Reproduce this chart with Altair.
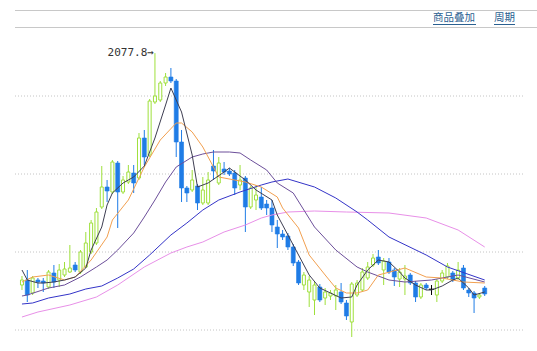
import altair as alt
import pandas as pd

# ---------------- data (weekly candles) ----------------
opens = [1614,1624,1598,1624,1622,1610,1638,1624,1634,1640,
         1654,1640,1650,1680,1698,1770,1810,1800,1858,1800,
         1820,1838,1828,1908,1874,1980,1984,2018,2030,2022,
         1900,1808,1804,1812,1778,1778,1852,1818,1846,1842,
         1838,1814,1828,1770,1784,1790,1776,1768,1730,1716,
         1712,1690,1660,1614,1600,1584,1610,1588,1592,1592,
         1600,1578,1540,1594,1604,1628,1654,1670,1644,1660,
         1644,1626,1626,1634,1618,1590,1614,1606,1594,1622,
         1630,1638,1628,1648,1604,1598,1590,1608]
highs = [1632,1644,1632,1628,1628,1644,1654,1656,1660,1694,
         1660,1684,1720,1744,1768,1852,1824,1864,1862,1832,
         1854,1854,1918,1924,1986,2077.8,2022,2038,2048,2026,
         1924,1812,1844,1816,1830,1840,1884,1870,1860,1848,
         1844,1854,1832,1812,1814,1810,1784,1784,1744,1724,
         1718,1696,1664,1640,1632,1620,1616,1608,1604,1614,
         1618,1584,1620,1624,1648,1660,1676,1684,1668,1668,
         1648,1648,1654,1638,1622,1618,1618,1614,1626,1644,
         1658,1642,1660,1654,1608,1602,1598,1612]
lows = [1604,1580,1594,1608,1600,1606,1608,1610,1630,1638,
        1640,1636,1648,1676,1694,1766,1780,1796,1728,1796,
        1816,1798,1824,1854,1870,1976,1980,2012,2018,1870,
        1780,1780,1800,1764,1774,1774,1824,1814,1834,1832,
        1794,1804,1720,1766,1764,1764,1754,1720,1688,1704,
        1684,1652,1614,1604,1570,1554,1580,1574,1584,1564,
        1576,1544,1510,1590,1600,1624,1650,1654,1614,1636,
        1612,1610,1594,1614,1580,1586,1604,1594,1580,1618,
        1626,1620,1624,1604,1590,1558,1586,1592]
closes = [1624,1594,1628,1620,1618,1640,1620,1644,1646,1648,
          1644,1680,1698,1738,1760,1810,1802,1860,1800,1824,
          1840,1818,1908,1870,1982,1992,2018,2030,2022,1900,
          1808,1798,1824,1778,1804,1824,1842,1858,1840,1836,
          1808,1824,1770,1808,1794,1768,1768,1734,1716,1710,
          1690,1658,1618,1634,1624,1614,1584,1600,1598,1604,
          1580,1552,1616,1618,1640,1650,1668,1658,1662,1640,
          1630,1640,1632,1618,1590,1614,1608,1605,1622,1638,
          1652,1624,1644,1608,1598,1588,1594,1596]

# moving averages (sampled at candle indices)
ma5_idx = [0,1,3,4,6,8,10,12,13,15,16,17,19,21,23,25,27,28,30,32,33,35,38,39,42,44,47,48,49,52,
           54,56,58,60,62,63,65,67,69,71,72,74,76,77,79,81,82,84,85,87]
ma5_val = [1644,1624,1618,1618,1620,1624,1630,1648,1684,1730,1774,1798,1818,1830,1852,1908,1974,2008,1960,1874,
           1810,1818,1840,1848,1824,1804,1784,1754,1734,1674,1634,1608,1598,1588,1590,1614,1644,1664,1660,1640,
           1628,1614,1604,1604,1612,1624,1628,1608,1594,1600]
ma10_idx = [0,2,5,8,10,13,16,17,20,23,26,29,30,32,34,36,37,40,42,45,48,49,52,54,57,59,61,63,65,67,72,76,79,83,87]
ma10_val = [1620,1630,1634,1624,1630,1664,1710,1744,1784,1850,1904,1938,1938,1920,1890,1850,1830,1824,1820,1810,
            1790,1768,1728,1674,1634,1608,1598,1598,1604,1634,1648,1630,1628,1620,1618]
ma20_idx = [0,1,5,8,11,14,16,18,21,23,25,27,29,32,34,36,39,41,43,46,48,51,55,59,63,65,69,72,77,82,87]
ma20_val = [1592,1594,1608,1614,1630,1650,1664,1684,1718,1750,1784,1820,1850,1870,1876,1880,1880,1878,1864,1844,
            1818,1798,1730,1684,1650,1640,1624,1620,1624,1634,1620]
ma30_idx = [0,2,5,9,12,15,18,21,24,28,31,34,37,41,45,47,50,55,59,63,65,69,76,80,87]
ma30_val = [1576,1578,1588,1596,1606,1612,1628,1646,1674,1714,1738,1764,1784,1800,1814,1820,1826,1810,1788,1760,
            1744,1710,1674,1650,1624]
ma60_idx = [0,3,9,14,18,23,28,31,34,38,42,45,47,50,55,61,69,76,82,87]
ma60_val = [1550,1560,1574,1590,1614,1650,1678,1690,1700,1720,1734,1748,1754,1760,1762,1760,1758,1748,1724,1690]

grid_levels = [1992, 1836, 1680, 1524]
header_labels = ["商品叠加", "周期"]

# ---------------- styles ----------------
GREEN = "#9fe03c"
BLUE = "#1f7ce6"
LINK = "#2a6090"
MA_SPECS = [("MA60", ma60_idx, ma60_val, "#e890e8"),
            ("MA30", ma30_idx, ma30_val, "#3434c8"),
            ("MA20", ma20_idx, ma20_val, "#6c4f9a"),
            ("MA10", ma10_idx, ma10_val, "#f2a050"),
            ("MA5", ma5_idx, ma5_val, "#3e3e52")]

n = len(opens)
df = pd.DataFrame({"i": list(range(n)), "open": opens, "high": highs, "low": lows, "close": closes})
df["kind"] = ["doji" if abs(c - o) <= 1 else ("up" if c > o else "down") for o, c in zip(opens, closes)]

xsc = alt.Scale(domain=[-3.192, 95.89], nice=False, zero=False)
ysc = alt.Scale(domain=[1482, 2184], nice=False, zero=False)
X = alt.X("i:Q", scale=xsc, axis=None)

one = pd.DataFrame({"k": [0]})
layers = []

for yy in (10.5, 27.5):
    layers.append(alt.Chart(one).mark_rule(color="#c8c8c8", strokeWidth=1).encode(
        x=alt.value(15), x2=alt.value(537), y=alt.value(yy)))

layers.append(alt.Chart(pd.DataFrame({"p": grid_levels})).mark_rule(
    color="#c4c4c4", strokeDash=[1, 2], strokeWidth=1).encode(
    y=alt.Y("p:Q", scale=ysc, axis=None), x=alt.value(15), x2=alt.value(525)))

kind_colors = {"up": GREEN, "down": BLUE, "doji": "#000000"}
for kind, col in kind_colors.items():
    layers.append(alt.Chart(df).transform_filter(f"datum.kind == '{kind}'").mark_rule(
        strokeWidth=1, color=col).encode(
        x=X, y=alt.Y("low:Q", scale=ysc, axis=None), y2="high:Q"))

layers.append(alt.Chart(df).transform_filter("datum.kind == 'up'").mark_bar(
    size=3, fill="white", stroke=GREEN, strokeWidth=1).encode(
    x=X, y=alt.Y("open:Q", scale=ysc, axis=None), y2="close:Q"))
layers.append(alt.Chart(df).transform_filter("datum.kind == 'down'").mark_bar(
    size=4, fill=BLUE, stroke=BLUE, strokeWidth=0.6).encode(
    x=X, y=alt.Y("open:Q", scale=ysc, axis=None), y2="close:Q"))
layers.append(alt.Chart(df).transform_filter("datum.kind == 'doji'").mark_bar(
    size=5, fill="#000000", stroke="#000000", strokeWidth=0.6).encode(
    x=X, y=alt.Y("open:Q", scale=ysc, axis=None), y2="close:Q"))

for name, idx, val, col in MA_SPECS:
    mdf = pd.DataFrame({"i": idx, "v": val})
    layers.append(alt.Chart(mdf).mark_line(strokeWidth=1, color=col).encode(
        x=X, y=alt.Y("v:Q", scale=ysc, axis=None), order="i:Q"))

hi_i = highs.index(max(highs))
hi_df = pd.DataFrame({"i": [hi_i], "p": [max(highs)], "t": [f"{max(highs)}→"]})
layers.append(alt.Chart(hi_df).mark_text(align="right", baseline="middle", dx=-1, fontSize=11,
                                         font="DejaVu Sans Mono", color="#333333").encode(
    x=X, y=alt.Y("p:Q", scale=ysc, axis=None), text="t:N"))

for lbl, x0, x1 in [(header_labels[0], 433, 476), (header_labels[1], 494, 515)]:
    layers.append(alt.Chart(pd.DataFrame({"t": [lbl]})).mark_text(
        align="left", baseline="middle", fontSize=10.5, font="Noto Sans CJK SC", color=LINK).encode(
        x=alt.value(x0), y=alt.value(18), text="t:N"))
    layers.append(alt.Chart(one).mark_rule(color=LINK, strokeWidth=1).encode(
        x=alt.value(x0), x2=alt.value(x1), y=alt.value(24.5)))

chart = alt.layer(*layers).properties(
    width=537, height=351, autosize="none", padding=0, background="white"
).configure_view(stroke=None)

chart.save("out.html", embed_options={"renderer": "svg", "actions": False})
